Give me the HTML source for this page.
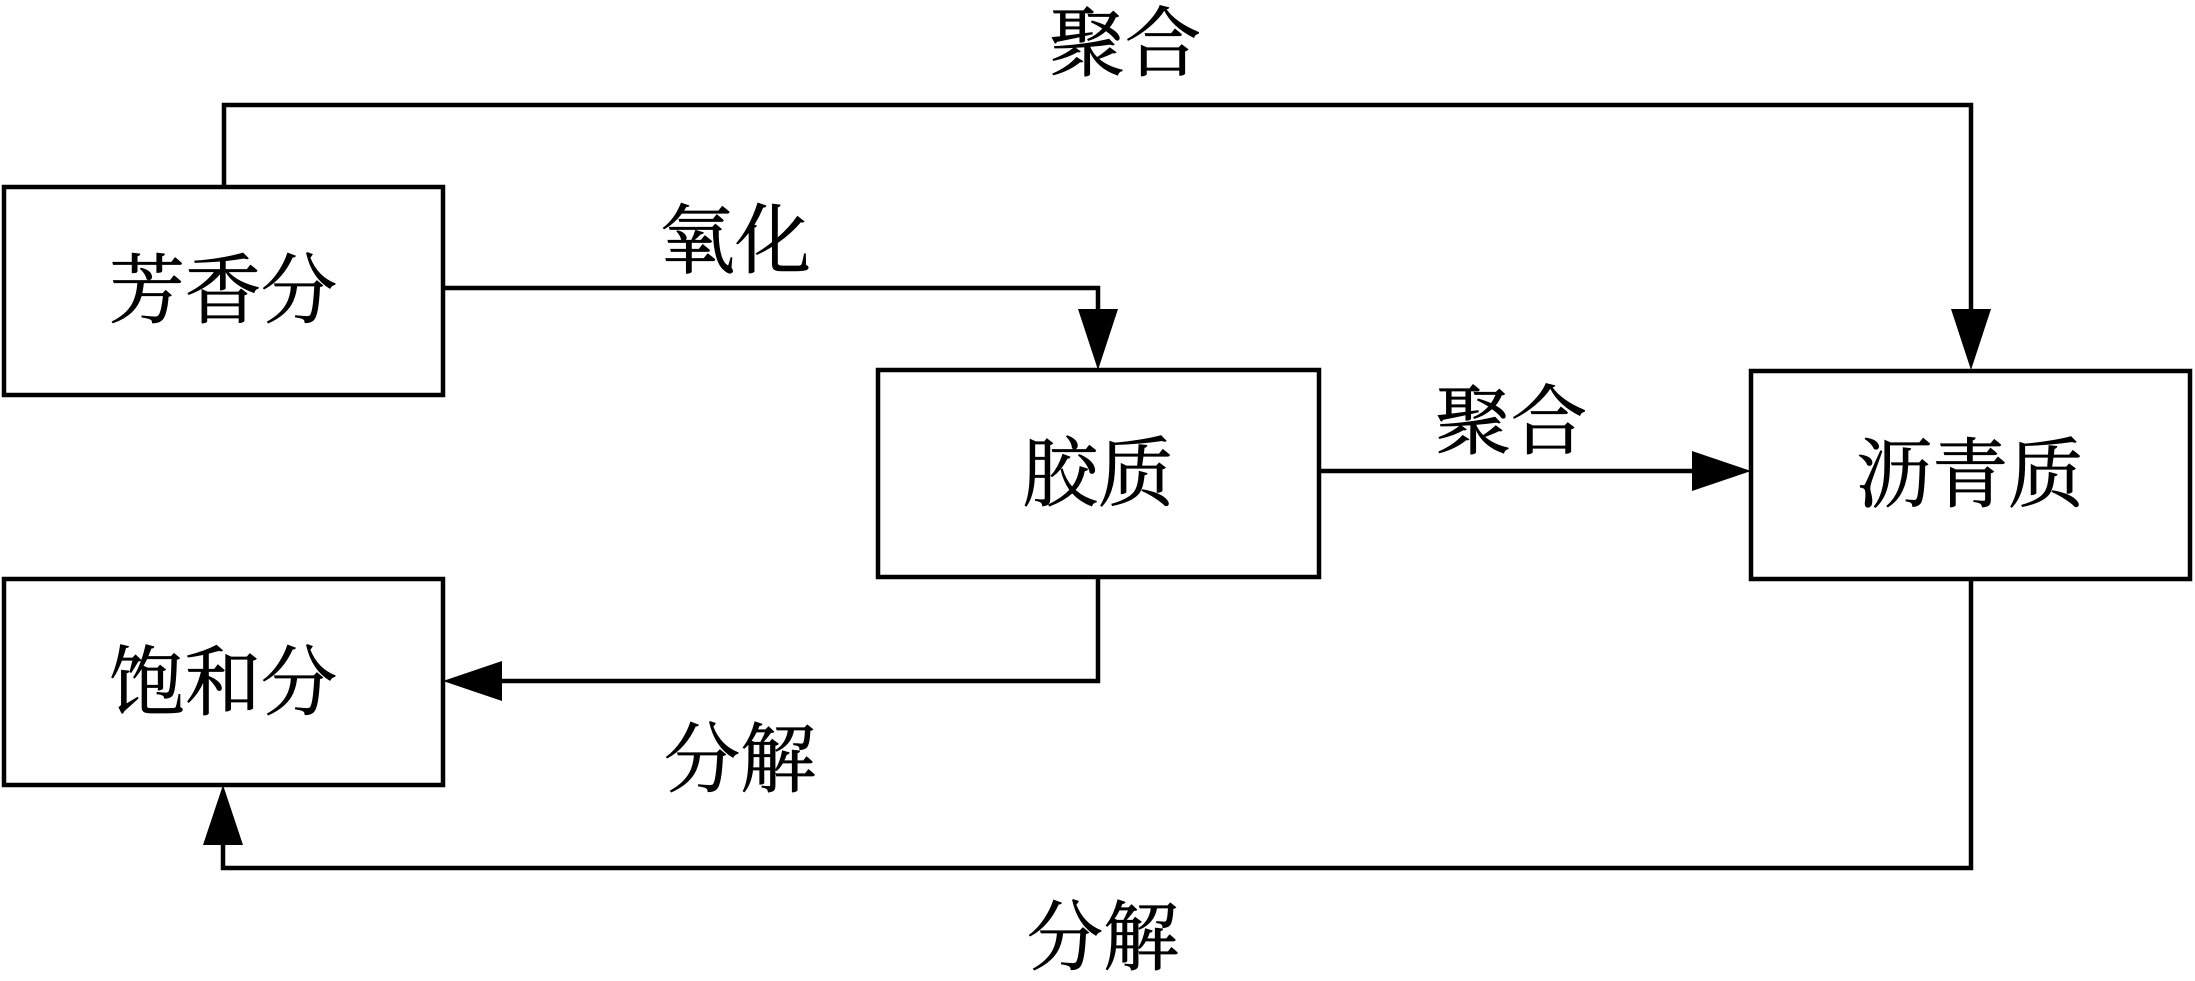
<!DOCTYPE html>
<html><head><meta charset="utf-8"><style>
html,body{margin:0;padding:0;background:#fff;}
svg{display:block}
text{font-family:"Liberation Serif","Noto Serif CJK SC",serif;font-size:76px;fill:#000;text-anchor:middle;dominant-baseline:central;stroke:#000;stroke-width:0.8}
</style></head><body>
<svg width="2195" height="981" viewBox="0 0 2195 981" xmlns="http://www.w3.org/2000/svg">
<g fill="none" stroke="#000" stroke-width="4.5">
<rect x="4" y="187" width="439" height="208"/>
<rect x="878" y="370" width="441" height="207"/>
<rect x="4" y="579" width="439" height="206"/>
<rect x="1751" y="371" width="439" height="208"/>
<polyline points="224,187 224,105 1971,105 1971,315"/>
<polyline points="443,288 1098,288 1098,315"/>
<polyline points="1319,471 1695,471"/>
<polyline points="1098,577 1098,681 500,681"/>
<polyline points="1971,579 1971,868 223,868 223,840"/>
</g>
<g fill="#000">
<polygon points="1971,370 1951,309 1991,309"/>
<polygon points="1098,370 1078,309 1118,309"/>
<polygon points="1751,471 1692,451 1692,491"/>
<polygon points="443,681 502,661 502,701"/>
<polygon points="223,785 203,845 243,845"/>
</g>
<text x="223" y="292">芳香分</text>
<text x="1098" y="475">胶质</text>
<text x="223" y="684">饱和分</text>
<text x="1970" y="476">沥青质</text>
<text x="1125" y="45" font-size="74">聚合</text>
<text x="735" y="242" font-size="74">氧化</text>
<text x="1511" y="423" font-size="74">聚合</text>
<text x="740" y="761" font-size="74">分解</text>
<text x="1103" y="939" font-size="74">分解</text>
</svg>
</body></html>
